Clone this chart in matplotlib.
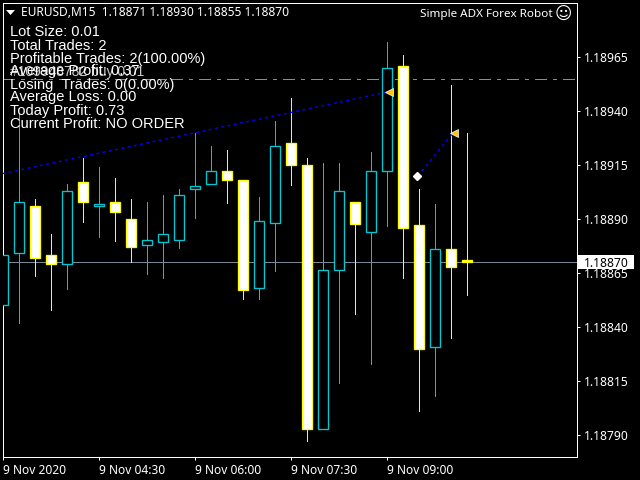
import matplotlib
matplotlib.use("Agg")
import matplotlib.pyplot as plt
from matplotlib.patches import Rectangle, Polygon
from matplotlib.transforms import blended_transform_factory

# =========================
# DATOS (precios)
# =========================
opens = [1.188500, 1.188741, 1.188959, 1.188732, 1.188690, 1.189070, 1.188959, 1.188977, 1.188899, 1.188778,
         1.188792, 1.188801, 1.189038, 1.189061, 1.189121, 1.189079, 1.188579, 1.188880, 1.189251, 1.189149,
         1.187929, 1.188663, 1.188977, 1.188838, 1.189121, 1.189608, 1.188872, 1.188309, 1.188760, 1.188710]
highs = [1.188831, 1.189391, 1.188993, 1.188831, 1.189061, 1.189182, 1.189141, 1.189090, 1.188993, 1.188979,
         1.189011, 1.189038, 1.189298, 1.189238, 1.189219, 1.189079, 1.189002, 1.189354, 1.189460, 1.189182,
         1.189159, 1.189159, 1.188977, 1.189210, 1.189719, 1.189659, 1.189039, 1.188969, 1.189520, 1.189300]
lows = [1.188118, 1.188420, 1.188637, 1.188480, 1.188577, 1.188888, 1.188818, 1.188800, 1.188700, 1.188647,
        1.188628, 1.188767, 1.188906, 1.189061, 1.188976, 1.188531, 1.188531, 1.188661, 1.189059, 1.187874,
        1.187929, 1.188142, 1.188462, 1.188230, 1.188868, 1.188628, 1.188012, 1.188082, 1.188350, 1.188550]
closes = [1.188732, 1.188977, 1.188721, 1.188690, 1.189028, 1.188977, 1.188968, 1.188931, 1.188769, 1.188801,
          1.188829, 1.189010, 1.189051, 1.189121, 1.189079, 1.188570, 1.188889, 1.189237, 1.189149, 1.187929,
          1.188663, 1.189028, 1.188878, 1.189121, 1.189599, 1.188860, 1.188299, 1.188760, 1.188679, 1.188700]

y_ticks = [1.18965, 1.18940, 1.18915, 1.18890, 1.18865, 1.18840, 1.18815, 1.18790]
x_tick_pos = [0, 6, 12, 18, 24]
x_tick_labels = ["9 Nov 2020", "9 Nov 04:30", "9 Nov 06:00", "9 Nov 07:30", "9 Nov 09:00"]

info_lines = ["Lot Size: 0.01", "Total Trades: 2", "Profitable Trades: 2(100.00%)", "Average Profit: 0.37",
              "Losing  Trades: 0(0.00%)", "Average Loss: 0.00", "Today Profit: 0.73", "Current Profit: NO ORDER"]

bid_price = 1.18870
ask_price = 1.189547
trade1_x = [-0.05, 24.0]
trade1_y = [1.18911, 1.189488]
trade2_x = [25.9, 28.1]
trade2_y = [1.189099, 1.189298]

# =========================
# ESTILO
# =========================
W, H = 640, 480
CYAN = "#00C8D2"
YELLOW = "#FFFF00"
FONT = ["Noto Sans", "DejaVu Sans"]
PX = 0.72  # un pixel en puntos
PX_PER_PRICE = 216000

fig = plt.figure(figsize=(W / 100, H / 100), dpi=100, facecolor="black")
ax = fig.add_axes([2.5 / W, 1 - 456.5 / H, 574 / W, 454 / H], facecolor="black")

ax.set_xlim(-0.05, -0.05 + 574 / 16)
# 1.18865 cae en y=273 px
ax.set_ylim(1.18865 - (456.5 - 273) / PX_PER_PRICE, 1.18865 + (273 - 2.5) / PX_PER_PRICE)

for s in ax.spines.values():
    s.set_color("white")
    s.set_linewidth(PX)

ax.yaxis.tick_right()
ax.set_yticks(y_ticks)
ax.set_yticklabels([f"{v:.5f}" for v in y_ticks], fontsize=8.7, color="white", family=FONT)
ax.set_xticks(x_tick_pos)
ax.set_xticklabels(x_tick_labels, fontsize=8.6, color="white", family=FONT, ha="left")
ax.tick_params(axis="both", colors="white", length=2.5, width=PX, pad=3)

# lineas de precio
ax.axhline(bid_price, color="#778899", lw=PX, zorder=1)
ax.axhline(ask_price, color="#32CD32", lw=PX, dashes=(11, 6, 3, 6), zorder=1, antialiased=False)

# velas
for i, (o, h, l, c) in enumerate(zip(opens, highs, lows, closes)):
    up = c >= o
    col = CYAN if up else YELLOW
    ax.plot([i, i], [l, h], color=col, lw=PX, zorder=2, antialiased=False, solid_capstyle="butt")
    ax.add_patch(Rectangle((i - 0.31, min(o, c)), 0.62, abs(c - o), facecolor="black" if up else "white",
                           edgecolor=col, lw=0.95, zorder=3, snap=True))

# operaciones
ax.plot(trade1_x, trade1_y, color="#0000FF", lw=1.0, ls=(0, (2.2, 2.4)), zorder=4)
ax.plot(trade2_x, trade2_y, color="#0000FF", lw=1.0, ls=(0, (2.2, 2.4)), zorder=4)
ax.plot([trade1_x[1] + 0.08], [trade1_y[1]], marker="<", ms=5.5, color="#FFC800", mec="white", mew=0.5, zorder=5)
ax.plot([trade2_x[1] + 0.08], [trade2_y[1]], marker="<", ms=5.5, color="#FFC800", mec="white", mew=0.5, zorder=5)
ax.plot([trade2_x[0] - 0.05], [trade2_y[0]], marker="D", ms=3.8, color="white", mec="white", zorder=5)

# etiqueta del precio actual
blend = blended_transform_factory(ax.transAxes, ax.transData)
ax.add_patch(Rectangle((1 + 1.5 / 574, bid_price - 7 / PX_PER_PRICE), 56 / 574, 14 / PX_PER_PRICE, transform=blend,
                       facecolor="white", edgecolor="none", clip_on=False, zorder=6))
ax.text(1 + 7.5 / 574, bid_price, f"{bid_price:.5f}", transform=blend, va="center_baseline", ha="left",
        fontsize=8.7, color="black", family=FONT, zorder=7, clip_on=False)

# textos superiores
fig.add_artist(Polygon([[6 / W, 1 - 10 / H], [15 / W, 1 - 10 / H], [10.5 / W, 1 - 15 / H]], closed=True,
                       facecolor="white", edgecolor="none", transform=fig.transFigure))
fig.text(21 / W, 1 - 13 / H, "EURUSD,M15  1.18871 1.18930 1.18855 1.18870", fontsize=8.6, color="white",
         family=FONT, va="center", ha="left")
fig.text(553 / W, 1 - 14 / H, "Simple ADX Forex Robot", fontsize=8.4, color="white",
         family=FONT, va="center", ha="right")
fig.text(572 / W, 1 - 14 / H, "\u263A", fontsize=12, color="white",
         family="DejaVu Sans", va="center", ha="right")

# panel de informacion
fig.text(10 / W, 1 - 76 / H, "#109948782 buy 0.01", fontsize=10, color="#C8C8C8", family="Liberation Sans",
         va="baseline", ha="left")
for n, line in enumerate(info_lines):
    fig.text(10 / W, 1 - (36.5 + n * 13) / H, line, fontsize=10.55, color="white",
             family="Liberation Sans", va="baseline", ha="left")

fig.savefig("out.png", dpi=100, facecolor="black")
